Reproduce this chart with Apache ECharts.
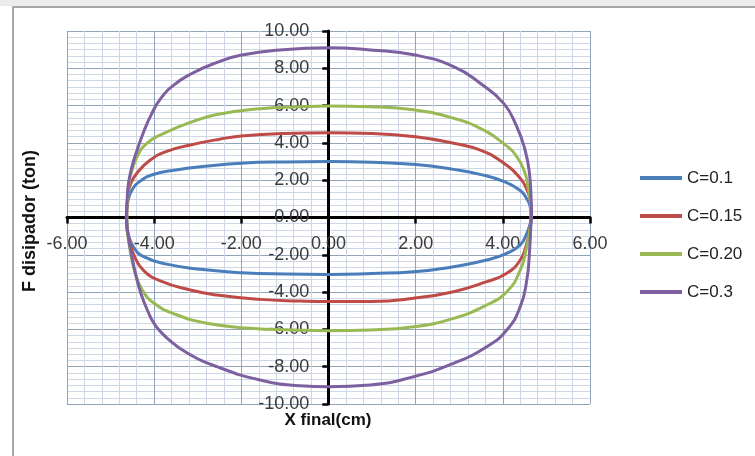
<!DOCTYPE html>
<html>
<head>
<meta charset="utf-8">
<script src="https://cdn.jsdelivr.net/npm/echarts@6/dist/echarts.min.js"></script>
<style>
html,body{margin:0;padding:0;background:#fff;}
#chart{width:755px;height:456px;}
</style>
</head>
<body>
<div id="chart"></div>
<script>
// Series names
const seriesNames = ['C=0.1', 'C=0.15', 'C=0.20', 'C=0.3'];
const seriesColors = ['#4a7ebb', '#be4b48', '#98b954', '#7d60a0'];

// Axis ticks
const xTicks = { min: -6, max: 6, step: 2 };
const yTicks = { min: -10, max: 10, step: 2 };

// C=0.1 loop: upper branch (left -> right), lower branch (right -> left)
const c01Upper = [[-4.63,0.3],[-4.60,0.9],[-4.51,1.47],[-4.32,1.95],[-4.0,2.32],[-3.5,2.55],[-2.94,2.72],[-2.0,2.91],[-1.0,2.98],[0,3.0],[1.0,2.96],[2.0,2.84],[2.87,2.58],[3.5,2.30],[4.0,1.95],[4.4,1.45],[4.55,1.0],[4.63,0.55],[4.65,0.0]];
const c01Lower = [[4.63,-0.3],[4.55,-0.85],[4.4,-1.47],[4.09,-1.92],[3.63,-2.28],[2.87,-2.64],[1.95,-2.91],[1.0,-3.0],[0,-3.05],[-1.0,-3.03],[-2.0,-2.96],[-2.94,-2.78],[-3.71,-2.50],[-4.24,-2.1],[-4.47,-1.6],[-4.58,-1.0],[-4.63,-0.3],[-4.63,0.3]];

// C=0.15 loop
const c015Upper = [[-4.63,0.3],[-4.60,1.2],[-4.55,1.75],[-4.39,2.4],[-4.09,3.08],[-3.71,3.55],[-3.17,3.89],[-2.5,4.2],[-2.0,4.37],[-1.0,4.51],[0,4.55],[1.0,4.51],[2.0,4.33],[2.87,3.98],[3.5,3.6],[4.0,2.95],[4.4,2.1],[4.55,1.5],[4.63,0.9],[4.65,0.0]];
const c015Lower = [[4.63,-0.5],[4.55,-1.38],[4.4,-2.28],[4.09,-2.99],[3.63,-3.44],[2.87,-3.98],[1.95,-4.33],[1.0,-4.50],[0,-4.51],[-0.65,-4.48],[-1.57,-4.39],[-2.56,-4.16],[-3.17,-3.89],[-3.86,-3.40],[-4.24,-2.85],[-4.45,-2.1],[-4.57,-1.2],[-4.63,-0.4],[-4.63,0.3]];

// C=0.20 loop
const c020Upper = [[-4.63,0.3],[-4.60,1.3],[-4.55,2.19],[-4.39,3.26],[-4.17,3.98],[-3.78,4.51],[-3.17,5.10],[-2.56,5.52],[-1.57,5.83],[-0.65,5.94],[0,5.98],[0.96,5.94],[1.99,5.76],[2.87,5.32],[3.48,4.78],[4.01,3.98],[4.32,3.26],[4.51,2.37],[4.58,1.6],[4.63,0.9],[4.65,0.0]];
const c020Lower = [[4.63,-0.5],[4.55,-1.56],[4.40,-2.82],[4.09,-3.98],[3.63,-4.69],[2.87,-5.41],[1.95,-5.86],[0.96,-6.03],[0,-6.07],[-0.80,-6.03],[-1.80,-5.94],[-2.79,-5.67],[-3.56,-5.15],[-4.0,-4.6],[-4.27,-3.9],[-4.43,-3.0],[-4.54,-1.9],[-4.61,-0.8],[-4.63,0.3]];

// C=0.3 loop
const c03Upper = [[-4.64,0.0],[-4.62,0.94],[-4.59,1.83],[-4.51,2.72],[-4.39,3.62],[-4.24,4.60],[-4.07,5.50],[-3.86,6.35],[-3.56,7.08],[-3.17,7.68],[-2.6,8.28],[-2.02,8.70],[-1.04,9.0],[0,9.10],[0.96,8.98],[1.99,8.71],[2.87,8.09],[3.48,7.20],[4.02,6.12],[4.32,4.87],[4.51,3.62],[4.61,2.37],[4.65,0.94],[4.66,0.0]];
const c03Lower = [[4.65,-0.13],[4.61,-1.92],[4.55,-3.35],[4.40,-4.78],[4.09,-6.03],[3.63,-6.93],[2.87,-7.82],[1.95,-8.54],[0.96,-8.98],[0,-9.07],[-0.65,-9.02],[-1.57,-8.71],[-2.56,-8.0],[-3.25,-7.25],[-3.71,-6.45],[-3.97,-5.8],[-4.15,-5.0],[-4.3,-4.1],[-4.42,-3.1],[-4.52,-2.0],[-4.6,-0.9],[-4.64,0.0]];

const loops = [
  c01Upper.concat(c01Lower),
  c015Upper.concat(c015Lower),
  c020Upper.concat(c020Lower),
  c03Upper.concat(c03Lower)
];

const fontFam = 'Liberation Sans, Arial, sans-serif';
const chart = echarts.init(document.getElementById('chart'), null, {renderer: 'canvas'});

const axisCommon = {
  type: 'value',
  axisLine: { show: true, onZero: false, lineStyle: { color: '#000', width: 3 } },
  axisTick: { show: true, inside: false, length: 6, lineStyle: { color: '#000', width: 2.5 } },
  splitLine: { show: true, lineStyle: { color: '#93a3ba', width: 1 } },
  minorSplitLine: { show: true, lineStyle: { color: '#cdd7e6', width: 1 } },
  axisLabel: { color: '#3a3a3a', fontSize: 18, fontFamily: fontFam, formatter: v => v.toFixed(2) }
};

const option = {
  animation: false,
  backgroundColor: '#fff',
  grid: { left: 67, right: 165, top: 31, bottom: 52, containLabel: false, show: false },
  xAxis: Object.assign({}, axisCommon, {
    position: 'bottom', offset: -186.5,
    min: xTicks.min, max: xTicks.max, interval: xTicks.step,
    minorTick: { show: false, splitNumber: 5 },
    axisLabel: Object.assign({}, axisCommon.axisLabel, { margin: 18 })
  }),
  yAxis: Object.assign({}, axisCommon, {
    position: 'left', offset: -261.3,
    min: yTicks.min, max: yTicks.max, interval: yTicks.step,
    minorTick: { show: false, splitNumber: 6 },
    axisLabel: Object.assign({}, axisCommon.axisLabel, { margin: 19 })
  }),
  legend: {
    orient: 'vertical', left: 640, top: 168, padding: 0,
    icon: 'rect',
    itemWidth: 42, itemHeight: 4, itemGap: 18,
    textStyle: { fontSize: 17, fontFamily: fontFam, color: '#222', lineHeight: 20 },
    data: seriesNames
  },
  graphic: [
    { type: 'rect', z: -10, shape: { x: 0, y: 0, width: 755, height: 6 }, style: { fill: '#ececec' } },
    { type: 'rect', z: -5, shape: { x: 13, y: 7, width: 760, height: 470 }, style: { fill: 'none', stroke: '#8a8a8a', lineWidth: 1.5 } },
    { type: 'text', x: 30, y: 221, rotation: Math.PI / 2, style: { text: 'F disipador (ton)', font: 'bold 18px ' + fontFam, fill: '#111', align: 'center', verticalAlign: 'middle' } },
    { type: 'text', x: 328, y: 420, style: { text: 'X final(cm)', font: 'bold 17px ' + fontFam, fill: '#111', align: 'center', verticalAlign: 'middle' } }
  ],
  series: seriesNames.map((n, i) => ({
    name: n,
    type: 'line',
    data: loops[i],
    smooth: 0.5,
    symbol: 'none',
    color: seriesColors[i],
    lineStyle: { width: 3, color: seriesColors[i] },
    z: 3 + i
  }))
};
chart.setOption(option);
</script>
</body>
</html>
